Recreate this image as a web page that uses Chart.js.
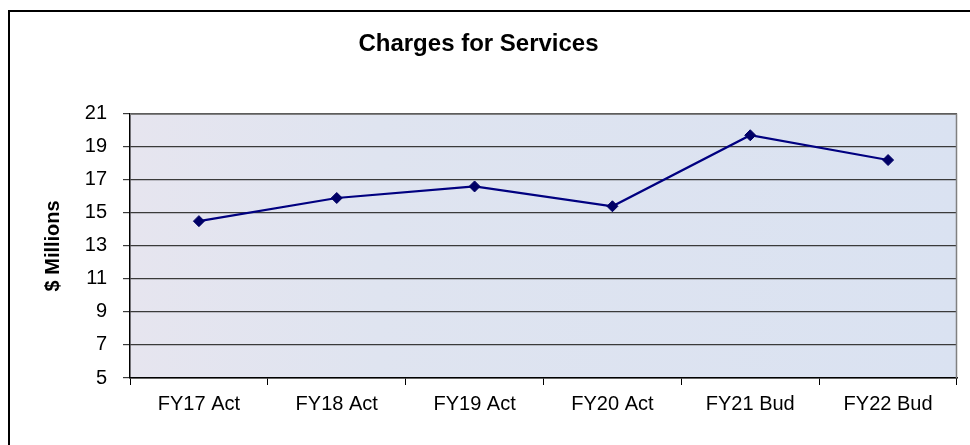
<!DOCTYPE html>
<html>
<head>
<meta charset="utf-8">
<title>Charges for Services</title>
<script src="https://cdn.jsdelivr.net/npm/chart.js@4"></script>
<style>
    html, body { margin: 0; padding: 0; background: #fff; }
    #wrap { width: 970px; height: 445px; position: relative; }
</style>
</head>
<body>
<div id="wrap"><canvas id="servicesChart" width="970" height="445"></canvas></div>
<script>
// Charges for Services, $ millions by fiscal year
const categories = ['FY17 Act', 'FY18 Act', 'FY19 Act', 'FY20 Act', 'FY21 Bud', 'FY22 Bud'];
const chargeValues = [14.5, 15.9, 16.6, 15.4, 19.7, 18.2];
const yMin = 5;
const yMax = 21;
const yStep = 2;

const FONT = "'Liberation Sans', Arial, sans-serif";

// Plot background, plot frame and the outer frame of the figure
const framePlugin = {
    id: 'frame',
    beforeDraw(chart) {
        const { ctx, chartArea: a } = chart;
        ctx.save();
        const grad = ctx.createLinearGradient(a.left, 0, a.right, 0);
        grad.addColorStop(0, '#e6e5ef');
        grad.addColorStop(0.3, '#dfe4f0');
        grad.addColorStop(1, '#dae2f1');
        ctx.fillStyle = grad;
        ctx.fillRect(a.left, a.top, a.right - a.left, a.bottom - a.top);

        // outer frame (left and top edges)
        ctx.strokeStyle = '#000';
        ctx.lineWidth = 2;
        ctx.beginPath();
        ctx.moveTo(9, 445);
        ctx.lineTo(9, 11);
        ctx.lineTo(970, 11);
        ctx.stroke();
        ctx.restore();
    },
    afterDatasetsDraw(chart) {
        const { ctx, chartArea: a } = chart;
        ctx.save();
        ctx.strokeStyle = '#808080';
        ctx.lineWidth = 1.5;
        ctx.beginPath();
        ctx.moveTo(a.left, a.top + 0.5);
        ctx.lineTo(a.right - 0.5, a.top + 0.5);
        ctx.lineTo(a.right - 0.5, a.bottom);
        ctx.stroke();
        ctx.restore();
    }
};

new Chart(document.getElementById('servicesChart'), {
    type: 'line',
    data: {
        labels: categories,
        datasets: [{
            label: 'Charges for Services',
            data: chargeValues,
            borderColor: '#000080',
            borderWidth: 2.2,
            backgroundColor: '#000066',
            pointStyle: 'rectRot',
            pointRadius: 5.5,
            pointBackgroundColor: '#000066',
            pointBorderColor: '#000066',
            pointBorderWidth: 1,
            tension: 0,
            fill: false
        }]
    },
    options: {
        responsive: false,
        animation: false,
        layout: { padding: { left: 0, right: 13, top: 0, bottom: 0 } },
        plugins: {
            legend: { display: false },
            tooltip: { enabled: false },
            title: {
                display: true,
                text: 'Charges for Services',
                color: '#000',
                font: { family: FONT, size: 24, weight: 'bold', lineHeight: 1.2 },
                padding: { top: 30, bottom: 55 }
            }
        },
        scales: {
            x: {
                offset: true,
                afterFit(scale) { scale.height = 67; },
                grid: {
                    offset: true,
                    drawOnChartArea: false,
                    drawTicks: true,
                    tickLength: 7,
                    color: '#000'
                },
                border: { display: true, color: '#000', width: 1.5 },
                ticks: {
                    color: '#000',
                    padding: 7,
                    maxRotation: 0,
                    font: { family: FONT, size: 20 }
                }
            },
            y: {
                min: yMin,
                max: yMax,
                afterFit(scale) { scale.width = 130; },
                grid: {
                    color: '#3a3a3a',
                    lineWidth: 1.2,
                    drawTicks: true,
                    tickLength: 7
                },
                border: { display: true, color: '#000', width: 1.5 },
                ticks: {
                    stepSize: yStep,
                    color: '#000',
                    padding: 16,
                    font: { family: FONT, size: 20 }
                },
                title: {
                    display: true,
                    text: '$ Millions',
                    color: '#000',
                    font: { family: FONT, size: 20, weight: 'bold', lineHeight: 1.2 },
                    padding: { top: 41, bottom: 0 }
                }
            }
        }
    },
    plugins: [framePlugin]
});
</script>
</body>
</html>
